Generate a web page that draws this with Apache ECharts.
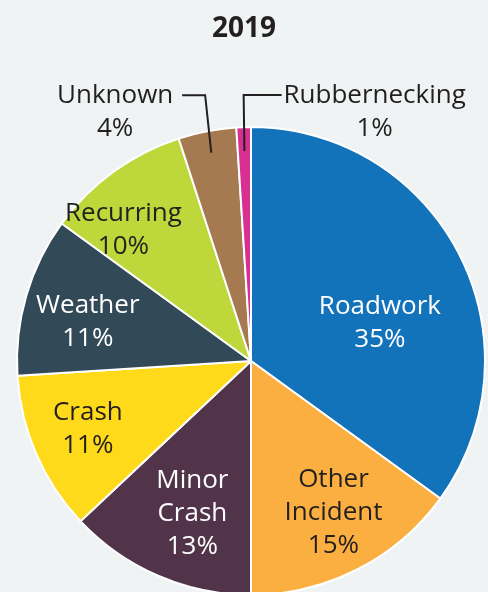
<!DOCTYPE html>
<html><head><meta charset="utf-8">
<script src="https://cdn.jsdelivr.net/npm/echarts@6/dist/echarts.min.js"></script>
<style>html,body{margin:0;padding:0;background:#EFF3F4}#c{width:488px;height:592px}</style>
</head><body><div id="c"></div>
<script>
const chartTitle = '2019';
const categories = ['Roadwork','Other Incident','Minor Crash','Crash','Weather','Recurring','Unknown','Rubbernecking'];
const shares = [35, 15, 13, 11, 11, 10, 4, 1];

const sliceColors = ['#1272BA','#FBAF41','#52344A','#FEDA1A','#324A57','#BED73B','#A67A51','#D73090'];
const textColors = ['#ffffff','#231F20','#ffffff','#231F20','#ffffff','#231F20','#231F20','#231F20'];
// style: label nudges from the library default inside position
const insideNudge = [[22,17],[28,45],[-11,42],[-53,20],[-48,-5],[-57,-34],null,null];
// style: outside label geometry relative to slice edge anchor
const outsideGeom = {
  6: {inset:22, bendDx:-2, bendDy:-36, endDx:-25, textDx:-92, textDy:-52},
  7: {inset:24, bendDx:0,  bendDy:-32, endDx:38,  textDx:131, textDy:-48}
};

const total = shares.reduce((a,b)=>a+b,0);
const midAngles = [];
let cum = 0;
shares.forEach(v => { midAngles.push((cum + v/2)/total*2*Math.PI); cum += v; });

const baseLabel = {
  fontFamily: 'Open Sans', fontSize: 26, lineHeight: 33,
  formatter: p => p.name.replace(' ', '\n') + '\n' + p.value + '%'
};

const sliceData = categories.map((name, i) => ({
  name, value: shares[i],
  itemStyle: {color: sliceColors[i]},
  label: {show: !outsideGeom[i], color: textColors[i]}
}));

const overlayData = categories.map((name, i) => ({
  name, value: shares[i],
  label: {show: !!outsideGeom[i], color: textColors[i]},
  labelLine: {show: !!outsideGeom[i]}
}));

const chart = echarts.init(document.getElementById('c'), null, {renderer:'canvas'});
chart.setOption({
  backgroundColor: '#EFF3F4',
  animation: false,
  title: {
    text: chartTitle, left: 'center', top: 10,
    textStyle: {fontFamily: 'Open Sans', fontWeight: 'bold', fontSize: 28, color: '#231F20'}
  },
  series: [{
    type: 'pie', z: 2,
    center: [251, 361], radius: 234,
    startAngle: 90, clockwise: true, avoidLabelOverlap: false,
    itemStyle: {borderColor: '#ffffff', borderWidth: 2},
    label: Object.assign({show: true, position: 'inside'}, baseLabel),
    labelLine: {show: false},
    labelLayout: p => {
      const n = insideNudge[p.dataIndex];
      return n ? {dx: n[0], dy: n[1]} : {};
    },
    data: sliceData
  }, {
    type: 'pie', z: 5, silent: true,
    center: [251, 361], radius: 234,
    startAngle: 90, clockwise: true, avoidLabelOverlap: false,
    itemStyle: {color: 'rgba(0,0,0,0)', borderWidth: 0},
    label: Object.assign({show: true, position: 'outside'}, baseLabel),
    labelLine: {show: true, lineStyle: {color: '#231F20', width: 2}},
    labelLayout: function (p) {
      const i = p.dataIndex;
      const g = outsideGeom[i];
      const pts = p.labelLinePoints;
      if (!g || !pts) return {};
      const a = pts[0];
      const ux = Math.sin(midAngles[i]), uy = -Math.cos(midAngles[i]);
      const p0 = [a[0] - ux*g.inset, a[1] - uy*g.inset];
      const p1 = [a[0] + g.bendDx, a[1] + g.bendDy];
      const p2 = [a[0] + g.endDx, a[1] + g.bendDy];
      return {
        x: a[0] + g.textDx, y: a[1] + g.textDy,
        align: 'center', verticalAlign: 'top',
        labelLinePoints: [p0, p1, p2]
      };
    },
    data: overlayData
  }]
});
</script></body></html>
